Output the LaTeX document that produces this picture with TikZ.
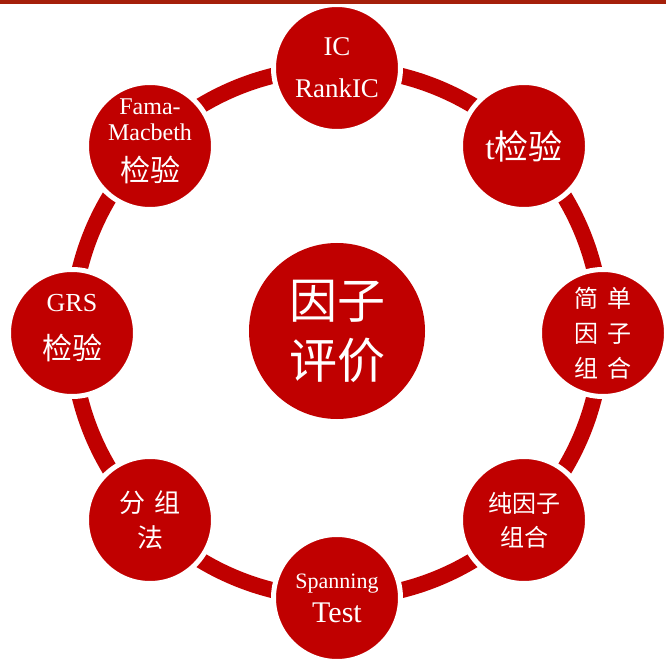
\documentclass[tikz,border=0pt]{standalone}
\usepackage{fontspec}
\setmainfont{Liberation Serif}
\newfontfamily\cjk{Noto Sans CJK SC}
\definecolor{evalred}{RGB}{192,0,0}
\definecolor{barred}{RGB}{165,32,10}
\newcommand{\fs}[2]{\fontsize{#1}{#2}\selectfont}
\newcommand{\lift}[1]{\rule[-#1]{0pt}{0pt}}
\tikzset{
  factor/.style={circle, fill=evalred, draw=white, line width=5pt,
                 minimum size=127pt, inner sep=0pt, text=white, align=center},
  core/.style={circle, fill=evalred, minimum size=176pt, inner sep=0pt,
               text=white, align=center},
  ring/.style={draw=evalred, line width=16pt}
}

\begin{document}
\begin{tikzpicture}[x=1pt,y=-1pt]
\useasboundingbox (0,0) rectangle (666,660);
\coordinate (o) at (337,333);
\draw[ring] (o) circle[radius=265pt];

\node[core,font=\fs{48}{60}\cjk] (c) at (337,331) {因子\\评价};

\node[factor,font=\fs{27}{42}] (v0) at (337,68) {IC\\RankIC};
\node[factor,font=\fs{34}{40}] (v1) at (524,146) {t{\cjk 检验}};
\node[factor,font=\fs{24}{35}\cjk] (v2) at (603,333) {简\hspace{9pt}单\\因\hspace{9pt}子\\组\hspace{9pt}合};
\node[factor,font=\fs{24}{34}\cjk] (v3) at (524,520) {纯因子\\组合};
\node[factor,font=\fs{22}{34}] (v4) at (337,598) {Spanning\\{\fs{30}{34}Test}};
\node[factor,font=\fs{26}{35}\cjk] (v5) at (150,520) {分\hspace{9pt}组\\法};
\node[factor,font=\fs{26}{48}] (v6) at (72,333) {GRS\\{\cjk\fs{30}{36}检验\lift{12pt}}};
\node[factor,font=\fs{24}{26}] (v7) at (150,146) {Fama-\\Macbeth\\[15pt]{\cjk\fs{30}{36}检验\lift{12pt}}};

\fill[barred] (0,0) rectangle (666,4);
\end{tikzpicture}
\end{document}
